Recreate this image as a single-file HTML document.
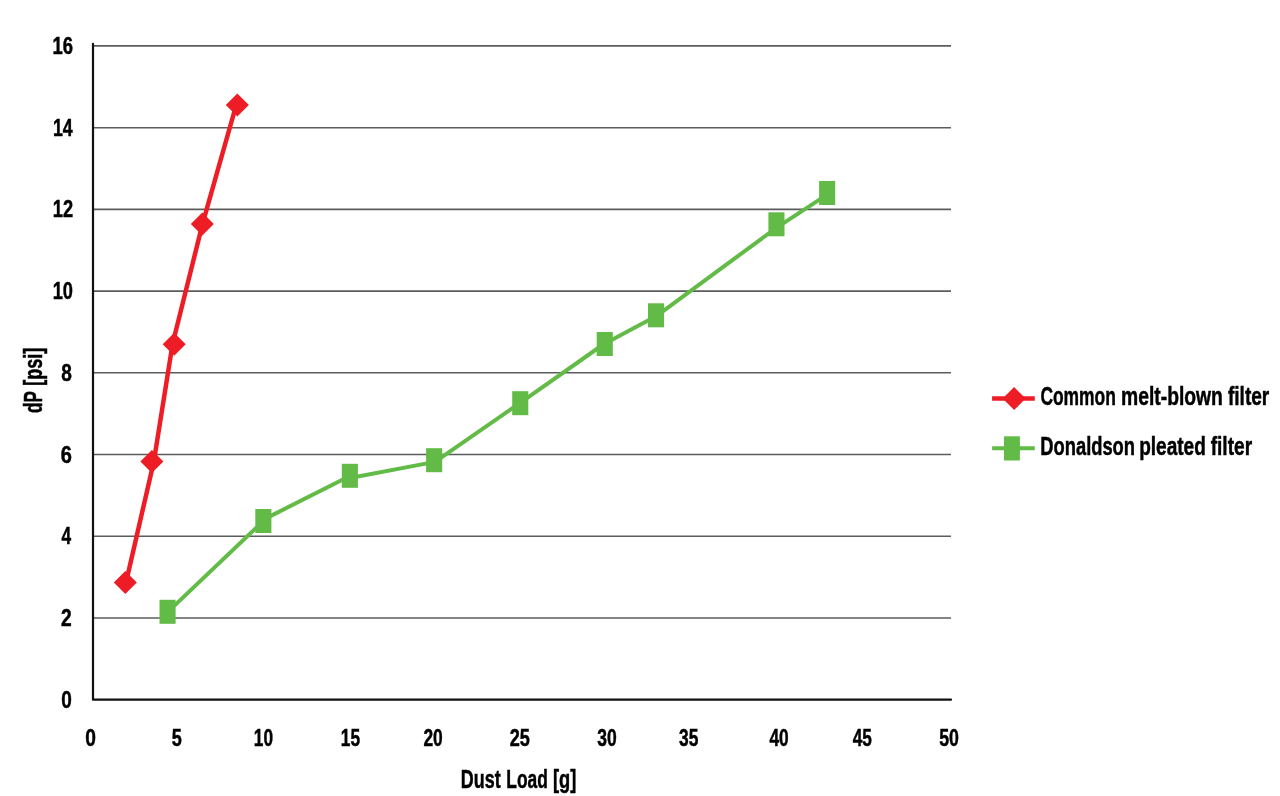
<!DOCTYPE html>
<html><head><meta charset="utf-8"><title>Dust load chart</title><style>
html,body{margin:0;padding:0;background:#fff;width:1280px;height:796px;overflow:hidden}
svg{display:block;will-change:transform}
text{font-family:"Liberation Sans",Arial,sans-serif;font-weight:bold;fill:#000;stroke:#000;stroke-width:0.5px}
.t{font-size:24.5px}
.b{font-size:25.5px}
</style></head><body>
<svg width="1280" height="796" viewBox="0 0 1280 796">
<g stroke="#5c5c5c" stroke-width="1.6"><line x1="94" y1="618.0" x2="951" y2="618.0"/><line x1="94" y1="536.3" x2="951" y2="536.3"/><line x1="94" y1="454.5" x2="951" y2="454.5"/><line x1="94" y1="372.8" x2="951" y2="372.8"/><line x1="94" y1="291.1" x2="951" y2="291.1"/><line x1="94" y1="209.4" x2="951" y2="209.4"/><line x1="94" y1="127.7" x2="951" y2="127.7"/><line x1="94" y1="45.9" x2="951" y2="45.9"/></g>
<polyline points="93,43.8 93,699.7 951,699.7" fill="none" stroke="#111" stroke-width="2.2" stroke-linejoin="round" stroke-linecap="round"/>
<g class="t"><text x="61.22" y="707.80" textLength="10.57" lengthAdjust="spacingAndGlyphs">0</text><text x="60.91" y="626.08" textLength="10.69" lengthAdjust="spacingAndGlyphs">2</text><text x="61.60" y="544.36" textLength="9.62" lengthAdjust="spacingAndGlyphs">4</text><text x="60.69" y="462.64" textLength="11.14" lengthAdjust="spacingAndGlyphs">6</text><text x="61.21" y="380.92" textLength="10.59" lengthAdjust="spacingAndGlyphs">8</text><text x="52.67" y="299.20" textLength="20.30" lengthAdjust="spacingAndGlyphs">10</text><text x="52.87" y="217.48" textLength="20.30" lengthAdjust="spacingAndGlyphs">12</text><text x="52.90" y="135.76" textLength="19.72" lengthAdjust="spacingAndGlyphs">14</text><text x="52.46" y="54.04" textLength="20.52" lengthAdjust="spacingAndGlyphs">16</text><text x="85.31" y="745.50" textLength="10.69" lengthAdjust="spacingAndGlyphs">0</text><text x="171.83" y="745.50" textLength="10.06" lengthAdjust="spacingAndGlyphs">5</text><text x="253.82" y="745.50" textLength="19.22" lengthAdjust="spacingAndGlyphs">10</text><text x="340.82" y="745.50" textLength="19.25" lengthAdjust="spacingAndGlyphs">15</text><text x="423.40" y="745.50" textLength="19.35" lengthAdjust="spacingAndGlyphs">20</text><text x="509.63" y="745.50" textLength="20.15" lengthAdjust="spacingAndGlyphs">25</text><text x="597.32" y="745.50" textLength="19.48" lengthAdjust="spacingAndGlyphs">30</text><text x="679.02" y="745.50" textLength="19.34" lengthAdjust="spacingAndGlyphs">35</text><text x="769.40" y="745.50" textLength="19.24" lengthAdjust="spacingAndGlyphs">40</text><text x="852.80" y="745.50" textLength="19.16" lengthAdjust="spacingAndGlyphs">45</text><text x="939.24" y="745.50" textLength="19.72" lengthAdjust="spacingAndGlyphs">50</text></g>
<g class="b"><text x="460.85" y="788.00" textLength="39.77" lengthAdjust="spacingAndGlyphs">Dust</text><text x="506.28" y="788.00" textLength="41.49" lengthAdjust="spacingAndGlyphs">Load</text><text x="552.90" y="788.00" textLength="23.34" lengthAdjust="spacingAndGlyphs">[g]</text>
<text transform="translate(42,412.90) rotate(-90)" x="0" y="0" textLength="21.80" lengthAdjust="spacingAndGlyphs">dP</text><text transform="translate(42,385.79) rotate(-90)" x="0" y="0" textLength="38.13" lengthAdjust="spacingAndGlyphs">[psi]</text>
<text x="1040.39" y="404.70" textLength="75.47" lengthAdjust="spacingAndGlyphs">Common</text><text x="1121.06" y="404.70" textLength="101.84" lengthAdjust="spacingAndGlyphs">melt-blown</text><text x="1227.91" y="404.70" textLength="41.39" lengthAdjust="spacingAndGlyphs">filter</text>
<text x="1040.32" y="455.00" textLength="94.68" lengthAdjust="spacingAndGlyphs">Donaldson</text><text x="1139.18" y="455.00" textLength="66.66" lengthAdjust="spacingAndGlyphs">pleated</text><text x="1210.71" y="455.00" textLength="41.39" lengthAdjust="spacingAndGlyphs">filter</text></g>
<polyline points="167.6,612.1 266.4,518.1 343.4,479.2 435.0,461.9 520.2,402.8 603.2,344.5 656,316.3 776.3,227.85 827.1,194.7" fill="none" stroke="#62BB46" stroke-width="4" stroke-linejoin="round"/>
<g fill="#62BB46"><rect x="159.5" y="599.8" width="16.1" height="24"/><rect x="255.3" y="509.0" width="16.1" height="24"/><rect x="341.8" y="463.8" width="16.1" height="24"/><rect x="426.1" y="448.2" width="16.1" height="24"/><rect x="512.2" y="391.2" width="16.1" height="24"/><rect x="596.7" y="332.0" width="16.1" height="24"/><rect x="648.0" y="303.3" width="16.1" height="24"/><rect x="768.4" y="212.3" width="16.1" height="24"/><rect x="819.1" y="181.0" width="16.1" height="24"/></g>
<polyline points="126.0,582.4 153.85,461.45 172.5,344.3 202.45,224.1 236.2,105.0" fill="none" stroke="#EE1C25" stroke-width="4.5" stroke-linejoin="round"/>
<g fill="#EE1C25"><polygon points="125.3,570.9 136.8,582.4 125.3,593.9 113.8,582.4"/><polygon points="151.9,449.95 163.4,461.45 151.9,472.95 140.4,461.45"/><polygon points="174.2,332.8 185.7,344.3 174.2,355.8 162.7,344.3"/><polygon points="202.3,212.6 213.8,224.1 202.3,235.6 190.8,224.1"/><polygon points="237.3,93.5 248.8,105.0 237.3,116.5 225.8,105.0"/></g>
<line x1="992.1" y1="398.55" x2="1034.8" y2="398.55" stroke="#EE1C25" stroke-width="4.5"/>
<polygon points="1014.1,387 1025.6,398.55 1014.1,410.1 1002.6,398.55" fill="#EE1C25"/>
<line x1="992.1" y1="448.2" x2="1034.8" y2="448.2" stroke="#62BB46" stroke-width="3.9"/>
<rect x="1004" y="436.3" width="15.9" height="24.2" fill="#62BB46"/>
</svg>
</body></html>
